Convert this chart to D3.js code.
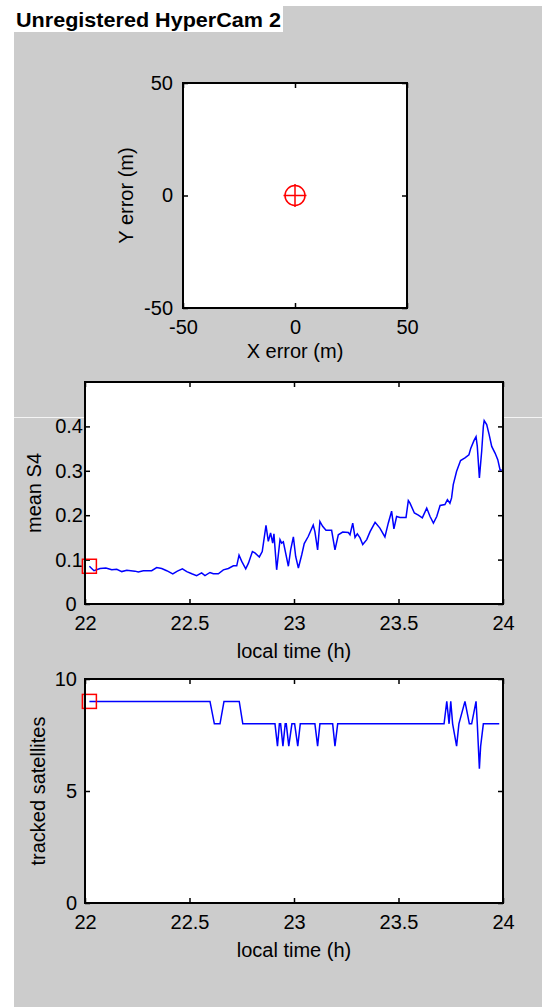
<!DOCTYPE html>
<html>
<head>
<meta charset="utf-8">
<script src="https://cdn.jsdelivr.net/npm/d3@7"></script>
<style>
  html, body { margin: 0; padding: 0; background: #ffffff; }
  svg { display: block; }
</style>
</head>
<body>
<svg id="fig" width="542" height="1007"></svg>
<script>
// ---- Position error (m) ----
const posErrX = [0];
const posErrY = [0];
const errTicks = [-50, 0, 50];

// ---- Mean S4 against local time (h) ----
const s4Time = [
  22.021, 22.043, 22.072, 22.100, 22.128, 22.152, 22.176, 22.200, 22.239, 22.255,
  22.279, 22.319, 22.343, 22.367, 22.391, 22.420, 22.442, 22.466, 22.487, 22.511,
  22.534, 22.558, 22.574, 22.598, 22.614, 22.638, 22.662, 22.686, 22.710, 22.726,
  22.737, 22.750, 22.769, 22.782, 22.801, 22.813, 22.834, 22.848, 22.866, 22.877,
  22.888, 22.898, 22.904, 22.917, 22.933, 22.941, 22.949, 22.973, 22.984, 22.997,
  23.008, 23.021, 23.037, 23.049, 23.068, 23.092, 23.100, 23.113, 23.124, 23.137,
  23.153, 23.180, 23.196, 23.212, 23.233, 23.260, 23.268, 23.281, 23.292, 23.303,
  23.316, 23.329, 23.348, 23.364, 23.388, 23.411, 23.435, 23.451, 23.467, 23.478,
  23.491, 23.507, 23.536, 23.547, 23.555, 23.576, 23.595, 23.614, 23.635, 23.651,
  23.667, 23.683, 23.699, 23.722, 23.734, 23.746, 23.754, 23.762, 23.778, 23.797,
  23.818, 23.837, 23.846, 23.861, 23.871, 23.877, 23.887, 23.898, 23.906, 23.910,
  23.922, 23.934, 23.946, 23.962, 23.975, 23.986, 23.994
];
const s4Mean = [
  0.085, 0.075, 0.080, 0.081, 0.077, 0.078, 0.073, 0.076, 0.074, 0.072,
  0.075, 0.075, 0.082, 0.080, 0.075, 0.068, 0.074, 0.079, 0.073, 0.068,
  0.064, 0.070, 0.064, 0.071, 0.068, 0.068, 0.077, 0.080, 0.086, 0.086,
  0.110, 0.096, 0.079, 0.092, 0.118, 0.115, 0.106, 0.118, 0.177, 0.141,
  0.160, 0.137, 0.158, 0.077, 0.145, 0.137, 0.140, 0.085, 0.122, 0.151,
  0.107, 0.081, 0.111, 0.136, 0.152, 0.178, 0.163, 0.122, 0.186, 0.175,
  0.166, 0.166, 0.122, 0.156, 0.162, 0.161, 0.156, 0.182, 0.150, 0.158,
  0.149, 0.134, 0.145, 0.163, 0.184, 0.171, 0.151, 0.182, 0.209, 0.169,
  0.197, 0.195, 0.195, 0.233, 0.227, 0.205, 0.200, 0.194, 0.216, 0.197,
  0.182, 0.197, 0.222, 0.224, 0.235, 0.227, 0.239, 0.269, 0.299, 0.323,
  0.329, 0.336, 0.351, 0.368, 0.377, 0.355, 0.284, 0.344, 0.400, 0.413,
  0.404, 0.381, 0.355, 0.340, 0.325, 0.302, 0.302
];
const s4Ticks = [0, 0.1, 0.2, 0.3, 0.4];

// ---- Tracked satellites against local time (h) ----
const satTime = [
  22.021, 22.598, 22.619, 22.646, 22.665, 22.738, 22.755, 22.909, 22.921, 22.930,
  22.936, 22.947, 22.958, 22.963, 22.975, 22.990, 23.003, 23.018, 23.030, 23.100,
  23.113, 23.124, 23.185, 23.196, 23.209, 23.718, 23.731, 23.742, 23.750, 23.759,
  23.778, 23.789, 23.818, 23.839, 23.850, 23.871, 23.877, 23.887, 23.893, 23.906,
  23.982
];
const satCount = [
  9, 9, 8, 8, 9, 9, 8, 8, 7, 8,
  8, 7, 8, 8, 7, 8, 8, 7, 8, 8,
  7, 8, 8, 7, 8, 8, 9, 8, 9, 8,
  7, 8, 9, 8, 8, 9, 8, 6, 7, 8,
  8
];
const satTicks = [0, 5, 10];

const timeTicks = [22, 22.5, 23, 23.5, 24];

// ---- drawing ----
const FONT = '"Liberation Sans", Arial, Helvetica, sans-serif';
const svg = d3.select('#fig');

// figure background and caption strip
svg.append('rect').attr('x', 14).attr('y', 6).attr('width', 528).attr('height', 1001)
  .attr('fill', '#cccccc');
svg.append('rect').attr('x', 14).attr('y', 6).attr('width', 269).attr('height', 26)
  .attr('fill', '#ffffff');
svg.append('text').attr('x', 16).attr('y', 27)
  .attr('font-family', FONT).attr('font-weight', 'bold').attr('font-size', 21)
  .attr('textLength', 265).attr('lengthAdjust', 'spacingAndGlyphs')
  .attr('fill', '#000').text('Unregistered HyperCam 2');
// thin light rule across the figure
svg.append('line').attr('x1', 14).attr('x2', 542).attr('y1', 417.5).attr('y2', 417.5)
  .attr('stroke', '#f4f4f4').attr('stroke-width', 1);

function styleAxis(g) {
  g.select('.domain').remove();
  g.selectAll('.tick line').attr('stroke', '#000').attr('stroke-width', 1.5);
  g.selectAll('.tick text').attr('fill', '#000')
    .attr('font-family', FONT).attr('font-size', 20);
}

// one MATLAB-style axes: white plot area, inward ticks on all four sides, boxed
function axesPanel(o) {
  const g = svg.append('g');
  const x = d3.scaleLinear().domain(o.xDomain).range([o.l, o.r]);
  const y = d3.scaleLinear().domain(o.yDomain).range([o.b, o.t]);
  g.append('rect').attr('x', o.l).attr('y', o.t)
    .attr('width', o.r - o.l).attr('height', o.b - o.t).attr('fill', '#ffffff');

  const fmt = d => String(d);
  g.append('g').attr('transform', `translate(0,${o.b})`)
    .call(d3.axisBottom(x).tickValues(o.xTicks).tickSize(-5).tickPadding(12).tickFormat(fmt))
    .call(styleAxis);
  g.append('g').attr('transform', `translate(0,${o.t})`)
    .call(d3.axisTop(x).tickValues(o.xTicks).tickSize(-5).tickFormat(''))
    .call(styleAxis);
  const left = g.append('g').attr('transform', `translate(${o.l},0)`)
    .call(d3.axisLeft(y).tickValues(o.yTicks).tickSize(-5).tickPadding(o.yPad).tickFormat(fmt))
    .call(styleAxis);
  if (o.yLabelDx) left.selectAll('.tick text').attr('dx', d => o.yLabelDx(d));
  g.append('g').attr('transform', `translate(${o.r},0)`)
    .call(d3.axisRight(y).tickValues(o.yTicks).tickSize(-5).tickFormat(''))
    .call(styleAxis);

  // axis titles
  g.append('text').attr('x', (o.l + o.r) / 2).attr('y', o.xTitleY)
    .attr('text-anchor', 'middle').attr('font-family', FONT).attr('font-size', 20)
    .attr('fill', '#000').text(o.xTitle);
  g.append('text')
    .attr('transform', `translate(${o.yTitleX},${(o.t + o.b) / 2}) rotate(-90)`)
    .attr('text-anchor', 'middle').attr('font-family', FONT).attr('font-size', 20)
    .attr('fill', '#000').text(o.yTitle);

  const plot = g.append('g');
  // frame drawn last so it sits over the data
  g.append('rect').attr('x', o.l).attr('y', o.t)
    .attr('width', o.r - o.l).attr('height', o.b - o.t)
    .attr('fill', 'none').attr('stroke', '#000').attr('stroke-width', 2);
  return { x, y, plot };
}

// Panel 1: horizontal position error
const p1 = axesPanel({
  l: 183, r: 407, t: 83, b: 308,
  xDomain: [-50, 50], yDomain: [-50, 50],
  xTicks: errTicks, yTicks: errTicks, yPad: 10,
  xTitle: 'X error (m)', xTitleY: 358,
  yTitle: 'Y error (m)', yTitleX: 133
});
const errPts = d3.zip(posErrX, posErrY);
p1.plot.selectAll('circle.err').data(errPts).join('circle')
  .attr('cx', d => p1.x(d[0])).attr('cy', d => p1.y(d[1])).attr('r', 10)
  .attr('fill', 'none').attr('stroke', '#ff0000').attr('stroke-width', 1.5);
p1.plot.selectAll('path.plus').data(errPts).join('path')
  .attr('d', d => {
    const cx = p1.x(d[0]), cy = p1.y(d[1]), h = 11.5;
    return `M${cx - h},${cy}H${cx + h}M${cx},${cy - h}V${cy + h}`;
  })
  .attr('fill', 'none').attr('stroke', '#ff0000').attr('stroke-width', 1.5);

// Panel 2: mean S4
const p2 = axesPanel({
  l: 85, r: 503, t: 382, b: 604,
  xDomain: [22, 24], yDomain: [0, 0.5],
  xTicks: timeTicks, yTicks: s4Ticks, yPad: 2,
  yLabelDx: d => (d === 0 ? -6.5 : 0),
  xTitle: 'local time (h)', xTitleY: 658,
  yTitle: 'mean S4', yTitleX: 40.5
});
const s4Pts = d3.zip(s4Time, s4Mean);
p2.plot.append('path').datum(s4Pts)
  .attr('d', d3.line().x(d => p2.x(d[0])).y(d => p2.y(d[1])))
  .attr('fill', 'none').attr('stroke', '#0000ff').attr('stroke-width', 1.5);
p2.plot.append('rect')
  .attr('x', p2.x(s4Time[0]) - 7).attr('y', p2.y(s4Mean[0]) - 7)
  .attr('width', 14).attr('height', 14)
  .attr('fill', 'none').attr('stroke', '#ff0000').attr('stroke-width', 1.5);

// Panel 3: tracked satellites
const p3 = axesPanel({
  l: 85, r: 503, t: 679, b: 903,
  xDomain: [22, 24], yDomain: [0, 10],
  xTicks: timeTicks, yTicks: satTicks, yPad: 8,
  xTitle: 'local time (h)', xTitleY: 957,
  yTitle: 'tracked satellites', yTitleX: 45
});
const satPts = d3.zip(satTime, satCount);
p3.plot.append('path').datum(satPts)
  .attr('d', d3.line().x(d => p3.x(d[0])).y(d => p3.y(d[1])))
  .attr('fill', 'none').attr('stroke', '#0000ff').attr('stroke-width', 1.5);
p3.plot.append('rect')
  .attr('x', p3.x(satTime[0]) - 7).attr('y', p3.y(satCount[0]) - 7)
  .attr('width', 14).attr('height', 14)
  .attr('fill', 'none').attr('stroke', '#ff0000').attr('stroke-width', 1.5);
</script>
</body>
</html>
